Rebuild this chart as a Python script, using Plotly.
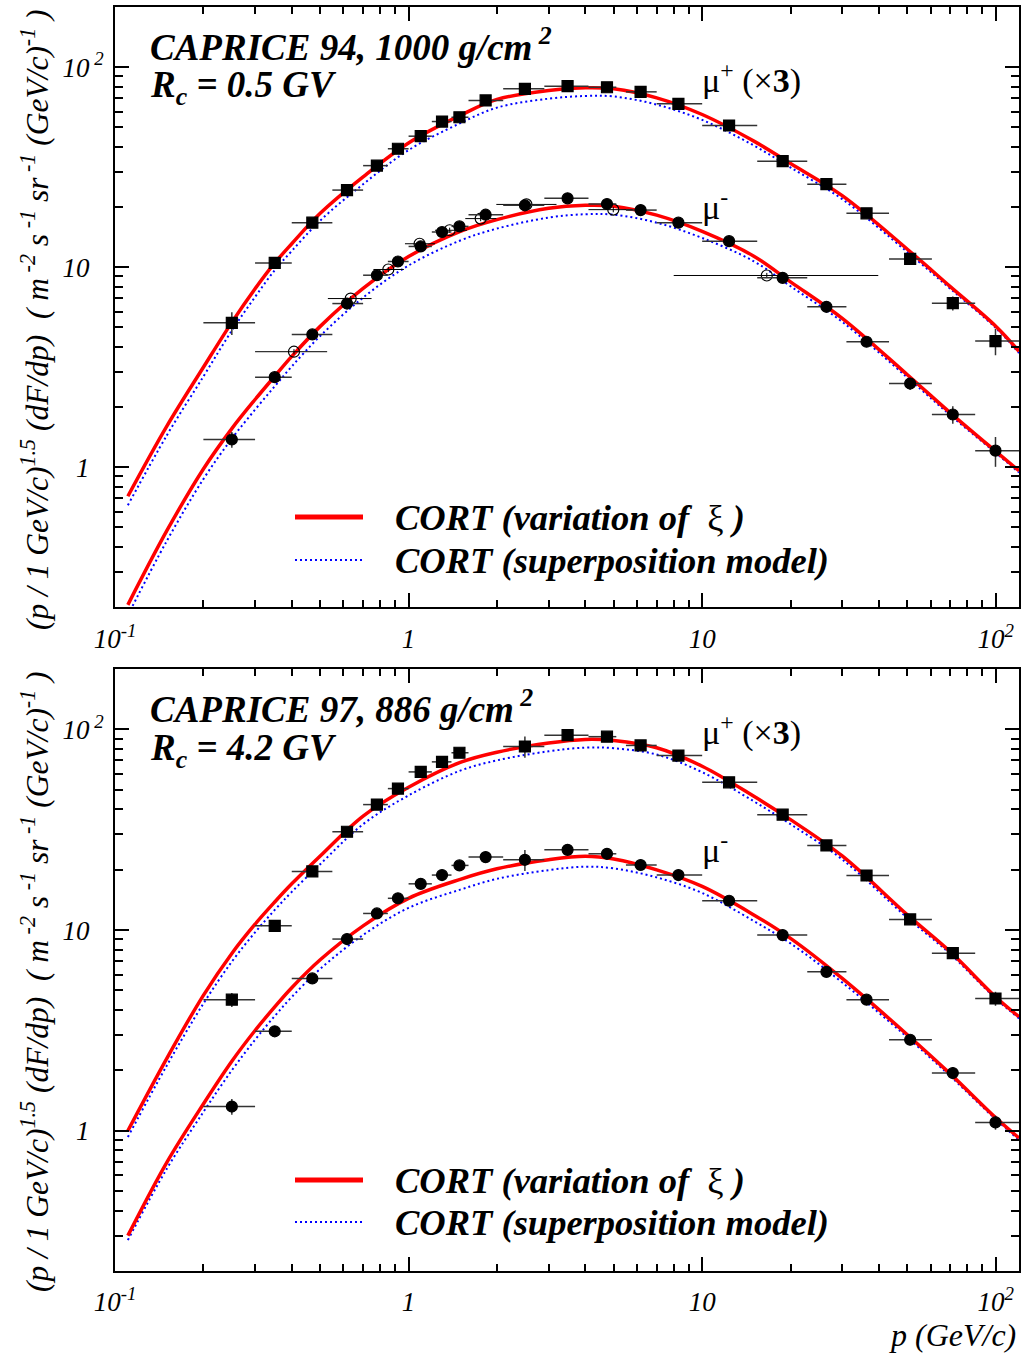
import plotly.graph_objects as go

FONT = "Liberation Serif"

# ---------------- model curves ----------------
P_CURVE = [0.1106, 0.15, 0.2, 0.25, 0.3, 0.35, 0.4, 0.5, 0.7, 1.0, 1.5, 2, 3, 4, 5,
           7, 10, 15, 20, 30, 50, 70, 100, 120]
# CAPRICE 94 : mu+ (x3) and mu-
R94P = [0.716, 1.60, 3.16, 5.3, 7.8, 10.5, 13.1, 18.6, 28.3, 41.8, 57.4, 69.0, 76.5, 78.9, 78.0,
        70.3, 58.0, 42.7, 33.0, 22.8, 12.3, 8.0, 5.07, 3.8]
B94P = [0.645, 1.44, 2.84, 4.82, 7.10, 9.66, 12.05, 17.1, 26.0, 38.5, 52.5, 62.8, 69.6, 71.8, 71.4,
        65.0, 54.5, 40.6, 31.5, 21.9, 11.9, 7.8, 4.97, 3.72]
R94M = [0.205, 0.48, 0.98, 1.56, 2.18, 2.85, 3.58, 5.06, 7.83, 11.3, 15.1, 17.3, 19.7, 20.4, 20.2,
        18.2, 15.1, 11.35, 8.45, 5.55, 2.9, 1.87, 1.20, 0.96]
B94M = [0.182, 0.427, 0.872, 1.39, 1.94, 2.54, 3.19, 4.53, 7.05, 10.2, 13.6, 15.6, 17.7, 18.4, 18.3,
        16.7, 14.0, 10.7, 8.03, 5.33, 2.81, 1.82, 1.18, 0.94]
# CAPRICE 97
R97P = [1.0, 2.29, 4.73, 7.65, 10.7, 13.8, 17.0, 23.4, 37.0, 51.5, 68.5, 77.0, 85.5, 89.1, 88.1,
        81.0, 65.5, 46.4, 35.5, 23.4, 11.9, 7.79, 4.64, 3.70]
B97P = [0.93, 2.11, 4.30, 6.96, 9.74, 12.6, 15.5, 21.3, 33.7, 46.9, 62.3, 70.1, 77.8, 81.1, 80.6,
        74.9, 61.2, 43.8, 33.7, 22.5, 11.5, 7.6, 4.55, 3.63]
R97M = [0.30, 0.694, 1.36, 2.22, 3.16, 4.14, 5.16, 7.11, 10.5, 14.4, 17.9, 20.2, 22.4, 23.3, 22.6,
        19.95, 16.5, 11.9, 9.09, 5.74, 3.01, 1.92, 1.16, 0.92]
B97M = [0.285, 0.645, 1.24, 2.0, 2.84, 3.73, 4.64, 6.40, 9.45, 12.9, 15.9, 18.0, 19.9, 20.7, 20.3,
        18.3, 15.3, 11.1, 8.58, 5.48, 2.92, 1.87, 1.14, 0.90]

# ---------------- data points ----------------
P94 = [0.25, 0.35, 0.47, 0.617, 0.78, 0.92, 1.10, 1.30, 1.49, 1.83, 2.49, 3.48, 4.74, 6.17,
       8.30, 12.35, 18.8, 26.5, 36.3, 51.1, 71.4, 99.8]
P94_LO = [0.2, 0.3, 0.4, 0.55, 0.7, 0.85, 1.0, 1.2, 1.4, 1.6, 2.1, 2.9, 4.1, 5.5,
          7.0, 10.0, 15.4, 22.8, 31.0, 43.3, 60.6, 85.1]
P94_HI = [0.3, 0.4, 0.55, 0.7, 0.85, 1.0, 1.2, 1.4, 1.6, 2.1, 2.9, 4.1, 5.1, 7.0,
          10.0, 15.4, 22.8, 31.0, 43.3, 60.6, 85.1, 120]
F94P = [5.27, 10.5, 16.7, 24.3, 32.2, 39.1, 45.2, 53.5, 56.2, 68.2, 78.0, 80.4, 79.4, 75.3,
        65.6, 51.1, 33.9, 26.0, 18.6, 11.0, 6.61, 4.27]
E94P = [0.13, 0.04, 0.03, 0.03, 0.03, 0.03, 0.03, 0.03, 0.03, 0.03, 0.03, 0.03, 0.03, 0.03,
        0.03, 0.03, 0.03, 0.04, 0.05, 0.06, 0.08, 0.15]
F94M = [1.376, 2.82, 4.61, 6.58, 9.12, 10.68, 12.7, 15.0, 16.0, 18.3, 20.4, 22.1, 20.7, 19.3,
        16.7, 13.5, 8.85, 6.34, 4.24, 2.62, 1.835, 1.21]
E94M = [0.09, 0.04, 0.03, 0.03, 0.03, 0.03, 0.03, 0.03, 0.03, 0.03, 0.03, 0.03, 0.03, 0.03,
        0.03, 0.03, 0.03, 0.04, 0.05, 0.07, 0.10, 0.17]
# open circles (mu-, second data set)
PO94 = [0.407, 0.635, 0.853, 1.09, 1.38, 1.76, 2.52, 4.98, 16.6]
PO94_LO = [0.3, 0.531, 0.759, 0.972, 1.23, 1.56, 1.99, 4.1, 8.0]
PO94_HI = [0.528, 0.748, 0.964, 1.23, 1.58, 1.99, 3.19, 5.8, 39.8]
FO94 = [3.78, 6.97, 9.74, 13.1, 15.3, 17.5, 20.6, 19.4, 9.09]

P97P = [0.25, 0.35, 0.47, 0.617, 0.78, 0.92, 1.10, 1.30, 1.49, 2.49, 3.48, 4.74, 6.17,
        8.30, 12.35, 18.8, 26.5, 36.3, 51.1, 71.4, 99.8]
P97P_LO = [0.2, 0.3, 0.4, 0.55, 0.7, 0.85, 1.0, 1.2, 1.4, 2.1, 2.9, 4.1, 5.5,
           7.0, 10.0, 15.4, 22.8, 31.0, 43.3, 60.6, 85.1]
P97P_HI = [0.3, 0.4, 0.55, 0.7, 0.85, 1.0, 1.2, 1.4, 1.6, 2.9, 4.1, 5.1, 7.0,
           10.0, 15.4, 22.8, 31.0, 43.3, 60.6, 85.1, 120]
F97P = [4.50, 10.5, 19.6, 30.9, 42.2, 50.7, 61.4, 68.9, 76.5, 82.2, 93.6, 92.0, 83.2,
        74.1, 54.5, 37.6, 26.4, 18.7, 11.3, 7.67, 4.56]
E97P = [0.08, 0.03, 0.03, 0.03, 0.03, 0.03, 0.03, 0.03, 0.03, 0.12, 0.03, 0.03, 0.03,
        0.03, 0.03, 0.03, 0.03, 0.04, 0.05, 0.06, 0.08]
P97M = P94
P97M_LO = P94_LO
P97M_HI = P94_HI
F97M = [1.32, 3.13, 5.74, 9.02, 12.1, 14.4, 17.0, 18.8, 21.0, 23.1, 22.4, 25.1, 24.0, 21.1,
        18.8, 14.0, 9.44, 6.19, 4.50, 2.84, 1.94, 1.10]
E97M = [0.09, 0.03, 0.03, 0.03, 0.03, 0.03, 0.03, 0.03, 0.03, 0.03, 0.12, 0.03, 0.03, 0.03,
        0.03, 0.03, 0.03, 0.04, 0.05, 0.06, 0.07, 0.08]

X_TICKS = [0.1, 1, 10, 100]
X_TICKTEXT = ["<i>10<sup>-1</sup></i>", "<i>1</i>", "<i>10</i>", "<i>10<sup>2</sup></i>"]
Y_TICKS = [1, 10, 100]
_PAD = "<sup><span style='color:rgba(0,0,0,0)'> 2</span></sup>"
Y_TICKTEXT = ["<i>1</i>" + _PAD, "<i>10</i>" + _PAD, "<i>10<sup> 2</sup></i>"]

W, H = 1027, 1358


def px(x):
    return x / W


def py(y):
    return 1 - y / H


fig = go.Figure()


def add_panel(xa, ya, curves, sets):
    rp, bp, rm, bm = curves
    for yv in (bp, bm):
        fig.add_trace(go.Scatter(x=P_CURVE, y=yv, mode="lines", xaxis=xa, yaxis=ya,
                                 line=dict(color="#0000ff", width=2, dash="2px,3px",
                                           shape="spline"),
                                 showlegend=False, hoverinfo="skip"))
    for yv in (rp, rm):
        fig.add_trace(go.Scatter(x=P_CURVE, y=yv, mode="lines", xaxis=xa, yaxis=ya,
                                 line=dict(color="#ff0000", width=3.5, shape="spline"),
                                 showlegend=False, hoverinfo="skip"))
    for (p, lo, hi, f, e, sym, col, ecol, ew, sz) in sets:
        fig.add_trace(go.Scatter(
            x=p, y=f, mode="markers", xaxis=xa, yaxis=ya, showlegend=False,
            marker=dict(symbol=sym, size=sz, color=col, line=dict(color="black", width=1.2)),
            error_x=dict(type="data", symmetric=False,
                         array=[h - v for h, v in zip(hi, p)],
                         arrayminus=[v - l for v, l in zip(p, lo)],
                         color=ecol, thickness=ew, width=0),
            error_y=dict(type="data", array=[v * r for v, r in zip(f, e)],
                         color=ecol, thickness=ew, width=0),
        ))


add_panel("x", "y", (R94P, B94P, R94M, B94M), [
    (PO94, PO94_LO, PO94_HI, FO94, [0.03] * len(FO94), "circle-open", "black", "black", 1, 11),
    (P94, P94_LO, P94_HI, F94P, E94P, "square", "black", "#333333", 1.5, 11),
    (P94, P94_LO, P94_HI, F94M, E94M, "circle", "black", "#333333", 1.5, 11),
])
add_panel("x2", "y2", (R97P, B97P, R97M, B97M), [
    (P97P, P97P_LO, P97P_HI, F97P, E97P, "square", "black", "#333333", 1.5, 11),
    (P97M, P97M_LO, P97M_HI, F97M, E97M, "circle", "black", "#333333", 1.5, 11),
])

axis_common = dict(type="log", showline=True, linecolor="black", linewidth=2, mirror="ticks",
                   ticks="inside", ticklen=14, tickwidth=1.5, tickcolor="black",
                   showgrid=False, zeroline=False, automargin=False,
                   tickfont=dict(family=FONT, size=27, color="black"))
minor_x = dict(ticks="inside", ticklen=7, tickwidth=1.5, tickcolor="black", showgrid=False,
               tickmode="array",
               tickvals=[a * b for b in (0.1, 1, 10) for a in range(2, 10)])
minor_y = dict(ticks="inside", ticklen=8, tickwidth=1.5, tickcolor="black", showgrid=False,
               tickmode="array",
               tickvals=[a * b for b in (0.1, 1, 10, 100) for a in range(2, 10)])
xr = [-1, 2.0792]
yr = [-0.69897, 2.30103]

fig.update_layout(
    width=W, height=H, margin=dict(l=0, r=0, t=0, b=0, autoexpand=False),
    paper_bgcolor="white", plot_bgcolor="white", showlegend=False,
    xaxis=dict(domain=[px(115), px(1019)], anchor="y", range=xr, tickmode="array",
               tickvals=X_TICKS, ticktext=X_TICKTEXT, minor=minor_x, ticklabelstandoff=7,
               **axis_common),
    yaxis=dict(domain=[py(607), py(7)], anchor="x", range=yr, tickmode="array",
               tickvals=Y_TICKS, ticktext=Y_TICKTEXT, minor=minor_y, ticklabelstandoff=4,
               **axis_common),
    xaxis2=dict(domain=[px(115), px(1019)], anchor="y2", range=xr, tickmode="array",
                tickvals=X_TICKS, ticktext=X_TICKTEXT, minor=minor_x, ticklabelstandoff=6,
                **axis_common),
    yaxis2=dict(domain=[py(1271), py(669)], anchor="x2", range=yr, tickmode="array",
                tickvals=Y_TICKS, ticktext=Y_TICKTEXT, minor=minor_y, ticklabelstandoff=4,
                **axis_common),
)

YTITLE = ("<i>(p / 1 GeV/c)<sup>1.5</sup> (dF/dp)  ( m<sup> -2</sup> s<sup> -1</sup> "
          "sr<sup> -1</sup> (GeV/c)<sup>-1</sup> )</i>")

ann = []
shapes = []
panels = [
    dict(t1="CAPRICE 94, 1000 g/cm<sup> 2</sup>", t2="R<sub>c</sub> = 0.5 GV",
         y1=45, y2=88, ymup=78, ymum=205, yl1=517, yl2=560, ytit=320),
    dict(t1="CAPRICE 97, 886 g/cm<sup> 2</sup>", t2="R<sub>c</sub> = 4.2 GV",
         y1=706, y2=750, ymup=730, ymum=848, yl1=1180, yl2=1222, ytit=982),
]
for pn in panels:
    big = dict(family=FONT, size=37, color="black")
    leg = dict(family=FONT, size=36.5, color="black")
    mu = dict(family=FONT, size=34, color="black")
    ann.append(dict(x=px(148), y=py(pn["y1"]), xref="paper", yref="paper", xanchor="left",
                    yanchor="middle", showarrow=False, text="<b><i>" + pn["t1"] + "</i></b>",
                    font=big))
    ann.append(dict(x=px(148), y=py(pn["y2"]), xref="paper", yref="paper", xanchor="left",
                    yanchor="middle", showarrow=False, text="<b><i>" + pn["t2"] + "</i></b>",
                    font=big))
    ann.append(dict(x=px(700), y=py(pn["ymup"]), xref="paper", yref="paper", xanchor="left",
                    yanchor="middle", showarrow=False, text="μ<sup>+</sup> (×<b>3</b>)",
                    font=mu))
    ann.append(dict(x=px(700), y=py(pn["ymum"]), xref="paper", yref="paper", xanchor="left",
                    yanchor="middle", showarrow=False, text="μ<sup>-</sup>", font=mu))
    ann.append(dict(x=px(393), y=py(pn["yl1"]), xref="paper", yref="paper", xanchor="left",
                    yanchor="middle", showarrow=False,
                    text="<b><i>CORT (variation of </i></b> ξ <b><i>)</i></b>", font=leg))
    ann.append(dict(x=px(393), y=py(pn["yl2"]), xref="paper", yref="paper", xanchor="left",
                    yanchor="middle", showarrow=False,
                    text="<b><i>CORT (superposition model)</i></b>", font=leg))
    ann.append(dict(x=px(35), y=py(pn["ytit"]), xref="paper", yref="paper", xanchor="center",
                    yanchor="middle", showarrow=False, textangle=-90, text=YTITLE,
                    font=dict(family=FONT, size=31.5, color="black")))
    shapes.append(dict(type="line", xref="paper", yref="paper", x0=px(295), x1=px(363),
                       y0=py(pn["yl1"]), y1=py(pn["yl1"]),
                       line=dict(color="#ff0000", width=5)))
    shapes.append(dict(type="line", xref="paper", yref="paper", x0=px(295), x1=px(363),
                       y0=py(pn["yl2"]), y1=py(pn["yl2"]),
                       line=dict(color="#0000ff", width=2, dash="2px,3px")))

ann.append(dict(x=px(1018), y=py(1335), xref="paper", yref="paper", xanchor="right",
                yanchor="middle", showarrow=False, text="<i>p (GeV/c)</i>",
                font=dict(family=FONT, size=32, color="black")))

fig.update_layout(annotations=ann, shapes=shapes)
fig.write_html("out.html", config={"displayModeBar": False},
               post_script="document.body.style.margin='0';"
                           "document.body.style.overflow='hidden';")
